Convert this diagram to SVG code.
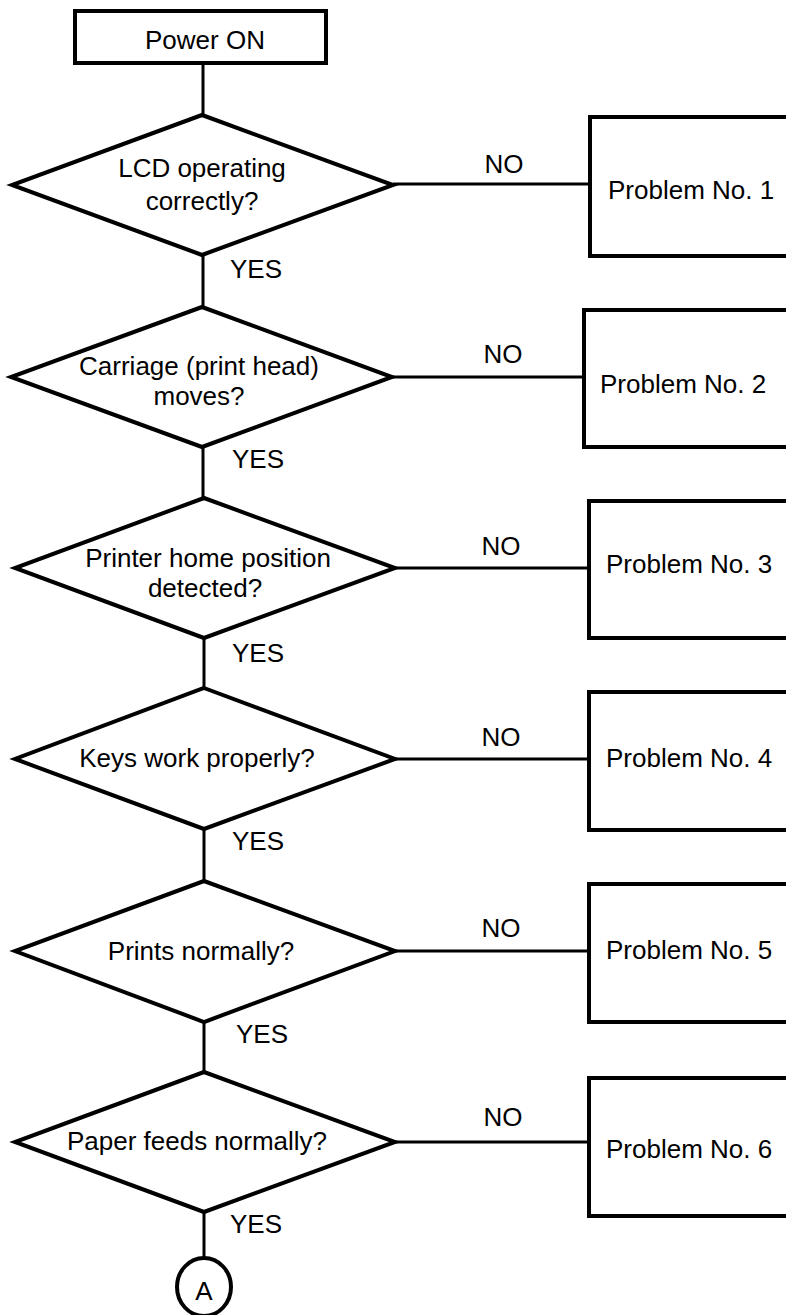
<svg xmlns="http://www.w3.org/2000/svg" width="786" height="1315" viewBox="0 0 786 1315">
<style>
  .box{fill:#fff;stroke:#000;stroke-width:4}
  .dia{fill:#fff;stroke:#000;stroke-width:4;stroke-linejoin:miter}
  .ln{stroke:#000;stroke-width:3;fill:none}
  text{font-family:"Liberation Sans",Arial,sans-serif;font-size:26px;fill:#000}
  .m{text-anchor:middle}
</style>
<rect width="786" height="1315" fill="#fff"/>
<g id="connectors">
  <line class="ln" x1="203" y1="63" x2="203" y2="115"/>
  <line class="ln" x1="203" y1="255" x2="203" y2="307"/>
  <line class="ln" x1="203" y1="447" x2="203" y2="498"/>
  <line class="ln" x1="204" y1="638" x2="204" y2="688"/>
  <line class="ln" x1="204" y1="829" x2="204" y2="881"/>
  <line class="ln" x1="204" y1="1022" x2="204" y2="1072"/>
  <line class="ln" x1="204" y1="1212" x2="204" y2="1258"/>
  <line class="ln" x1="393" y1="184" x2="590" y2="184"/>
  <line class="ln" x1="392" y1="377" x2="584" y2="377"/>
  <line class="ln" x1="395" y1="568" x2="589" y2="568"/>
  <line class="ln" x1="395" y1="759" x2="589" y2="759"/>
  <line class="ln" x1="395" y1="951" x2="589" y2="951"/>
  <line class="ln" x1="395" y1="1142" x2="589" y2="1142"/>
  <text x="504" y="173" class="m">NO</text>
  <text x="503" y="363" class="m">NO</text>
  <text x="501" y="555" class="m">NO</text>
  <text x="501" y="746" class="m">NO</text>
  <text x="501" y="937" class="m">NO</text>
  <text x="503" y="1126" class="m">NO</text>
  <text x="230" y="278">YES</text>
  <text x="232" y="468">YES</text>
  <text x="232" y="662">YES</text>
  <text x="232" y="850">YES</text>
  <text x="236" y="1043">YES</text>
  <text x="230" y="1233">YES</text>
</g>
<g id="start">
  <rect class="box" x="75" y="11" width="251" height="52"/>
  <text x="205" y="49" class="m">Power ON</text>
</g>
<g id="q1">
  <polygon class="dia" points="202,115 393,185 202,255 12,185"/>
  <text x="202" y="177" class="m">LCD operating</text>
  <text x="202" y="210" class="m">correctly?</text>
</g>
<g id="q2">
  <polygon class="dia" points="202,307 392,377 202,447 11,377"/>
  <text x="199" y="375" class="m">Carriage (print head)</text>
  <text x="199" y="405" class="m">moves?</text>
</g>
<g id="q3">
  <polygon class="dia" points="204,498 395,568 204,638 15,568"/>
  <text x="208" y="567" class="m">Printer home position</text>
  <text x="205" y="597" class="m">detected?</text>
</g>
<g id="q4">
  <polygon class="dia" points="204,688 395,759 204,829 15,759"/>
  <text x="197" y="767" class="m">Keys work properly?</text>
</g>
<g id="q5">
  <polygon class="dia" points="204,881 395,951 204,1022 15,951"/>
  <text x="201" y="960" class="m">Prints normally?</text>
</g>
<g id="q6">
  <polygon class="dia" points="204,1072 395,1142 204,1212 15,1142"/>
  <text x="197" y="1150" class="m">Paper feeds normally?</text>
</g>
<g id="p1">
  <rect class="box" x="590" y="117" width="260" height="139"/>
  <text x="608" y="199">Problem No. 1</text>
</g>
<g id="p2">
  <rect class="box" x="584" y="310" width="260" height="137"/>
  <text x="600" y="393">Problem No. 2</text>
</g>
<g id="p3">
  <rect class="box" x="589" y="501" width="260" height="137"/>
  <text x="606" y="573">Problem No. 3</text>
</g>
<g id="p4">
  <rect class="box" x="589" y="692" width="260" height="138"/>
  <text x="606" y="767">Problem No. 4</text>
</g>
<g id="p5">
  <rect class="box" x="589" y="884" width="260" height="138"/>
  <text x="606" y="959">Problem No. 5</text>
</g>
<g id="p6">
  <rect class="box" x="589" y="1078" width="260" height="138"/>
  <text x="606" y="1158">Problem No. 6</text>
</g>
<g id="connA">
  <ellipse cx="204" cy="1287" rx="27" ry="29" fill="#fff" stroke="#000" stroke-width="4"/>
  <text x="204" y="1300" class="m">A</text>
</g>
</svg>
